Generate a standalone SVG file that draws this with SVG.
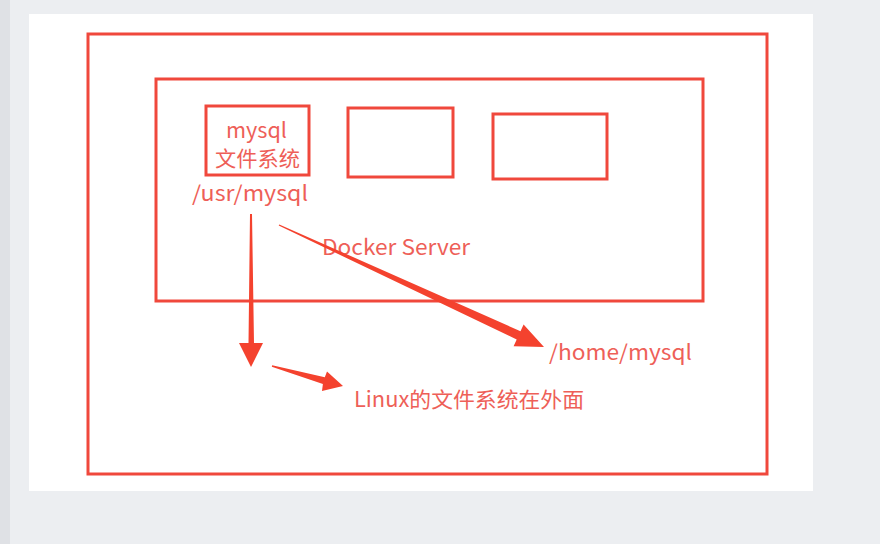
<svg xmlns="http://www.w3.org/2000/svg" width="880" height="544" viewBox="0 0 880 544">
<style>
.box{fill:none;stroke:#f0483c;stroke-width:3}
.lbl{fill:#ee5f58;font-family:"Noto Sans CJK SC","Noto Sans",sans-serif;font-size:21px}
.arr{fill:#f4422e}
</style>
<rect x="0" y="0" width="880" height="544" fill="#eceef1"/>
<rect x="0" y="0" width="10" height="544" fill="#dfe1e5"/>
<rect x="29" y="14" width="784" height="477" fill="#ffffff"/>
<g id="linux-host">
<rect class="box" x="88" y="34" width="679" height="440"/>
<text class="lbl" x="354" y="407" textLength="230" lengthAdjust="spacingAndGlyphs">Linux的文件系统在外面</text>
</g>
<g id="docker-server">
<rect class="box" x="156" y="79" width="547" height="222"/>
<text class="lbl" x="322" y="255" textLength="148" lengthAdjust="spacingAndGlyphs">Docker Server</text>
</g>
<g id="mysql-container">
<rect class="box" x="206" y="106" width="103" height="69"/>
<text class="lbl" x="226" y="138" textLength="61" lengthAdjust="spacingAndGlyphs">mysql</text>
<text class="lbl" x="215" y="166" textLength="85" lengthAdjust="spacingAndGlyphs">文件系统</text>
<text class="lbl" x="192" y="201" textLength="116" lengthAdjust="spacingAndGlyphs">/usr/mysql</text>
</g>
<g id="container-2">
<rect class="box" x="348" y="108" width="105" height="69"/>
</g>
<g id="container-3">
<rect class="box" x="493" y="114" width="114" height="65"/>
</g>
<g id="home-mysql">
<text class="lbl" x="549" y="360" textLength="143" lengthAdjust="spacingAndGlyphs">/home/mysql</text>
</g>
<g id="connectors">
<polygon class="arr" points="250,214 252,214 254,343 263,343 251,367 239,343 248.5,343"/>
<polygon class="arr" points="279.3,224.4 520.5,331.2 523.6,324.4 544,347 513.6,346.2 516.7,339.4 278.7,225.6"/>
<polygon class="arr" points="272.2,365.2 324.8,377.2 327,371.5 343,386 322,391 322.9,384 271.8,366.8"/>
</g>
</svg>
